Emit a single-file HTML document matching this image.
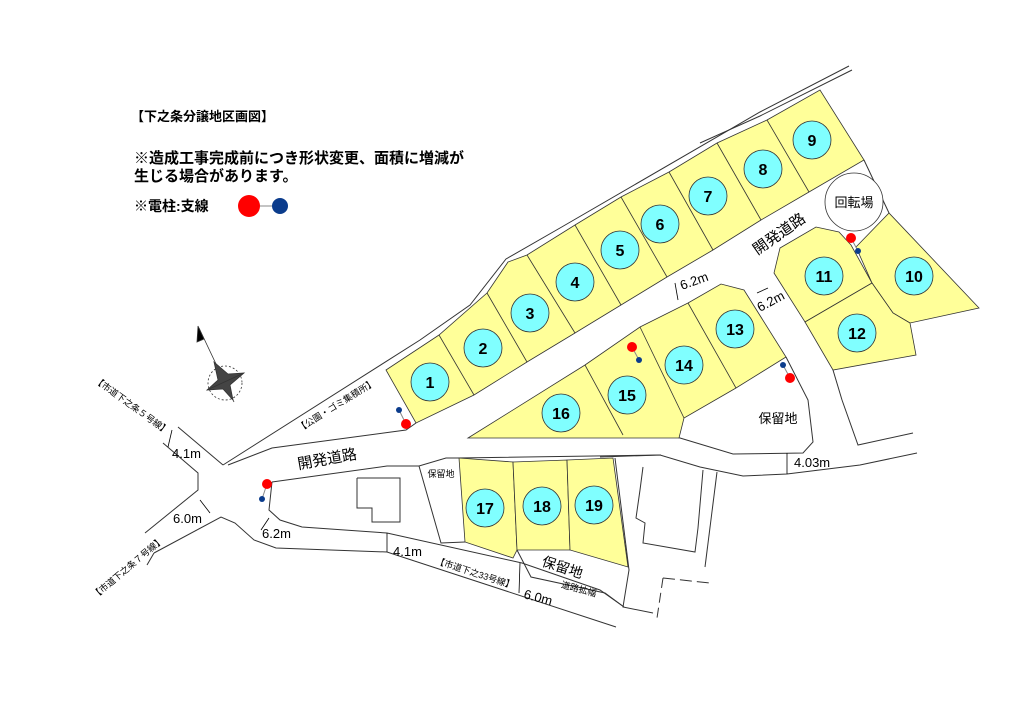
<!DOCTYPE html>
<html><head><meta charset="utf-8"><style>
html,body{margin:0;padding:0;background:#fff;}
svg{display:block;font-family:"Liberation Sans","Noto Sans CJK JP",sans-serif;}
</style></head><body>
<svg width="1024" height="724" viewBox="0 0 1024 724" xmlns="http://www.w3.org/2000/svg">
<g fill="none" stroke="#333" stroke-width="1">
<polyline points="223,465 420,340 470,305 506,259 560,228 760,112 849,66"/>
<polyline points="700,143 760,116 852,70"/>
<polyline points="228,465 272,448 406,430 416,423"/>
<polyline points="864,160 889,213"/>
<polyline points="178,427 223,465"/>
<polyline points="163,443 198,473 198,490 145,533"/>
<polyline points="154,553 221,517 235,523 254,540 276,548 387,552 616,627"/>
<polyline points="147,565 154,553"/>
<polyline points="272,482 387,466 419,466 446,458 457,458 661,455"/>
<polyline points="272,482 269,510 280,520 302,527 387,533 522,563 600,590 624,607"/>
<polyline points="419,466 441,543 465,542"/>
<polyline points="357,478 400,478 400,522 372,522 372,508 357,508 357,478"/>
<polyline points="517,550 531,577 605,593 624,607"/>
<polyline points="615,458 629,570 623,607 653,613"/>
<polyline points="643,467 640,490 636,518 645,523 643,543 695,552 698,528 703,470"/>
<polyline points="717,472 705,567"/>
<polyline points="663,578 657,618" stroke-dasharray="10,5"/>
<polyline points="663,578 710,583" stroke-dasharray="12,5"/>
<polyline points="600,437 663,434 680,438 733,454 803,453 813,442 808,400 786,357"/>
<polyline points="600,457 660,455 700,467 743,476 787,474 860,465 917,453"/>
<polyline points="842,400 858,445 913,433"/>
<polyline points="833,370 842,400"/>
</g>
<g fill="#ffff99" stroke="#333" stroke-width="0.8">
<polygon points="386,370 439,335 487,293 508,262 527,255 575,225 621,197 669,172 717,143 767,120 820,90 864,160 809,192 761,220 713,250 667,277 621,305 575,333 527,362 474,395 416,423"/>
<polygon points="468,438 585,365 640,327 688,303 721,284 744,290 786,357 736,388 684,418 679,438"/>
<polygon points="780,248 816,227 839,232 851,245 872,283 805,322 774,273"/>
<polygon points="856,247 889,213 979,308 910,323 893,313 872,283"/>
<polygon points="805,322 872,283 893,313 910,323 916,355 833,370"/>
<polygon points="459,458 513,462 517,550 513,558 465,542"/>
<polygon points="513,462 567,460 570,550 517,550"/>
<polygon points="567,460 613,458 628,567 570,550"/>
</g>
<g stroke="#333" stroke-width="0.8" fill="none">
<line x1="439" y1="335" x2="474" y2="395"/><line x1="487" y1="293" x2="527" y2="362"/>
<line x1="527" y1="255" x2="575" y2="333"/><line x1="575" y1="225" x2="621" y2="305"/>
<line x1="621" y1="197" x2="667" y2="277"/><line x1="669" y1="172" x2="713" y2="250"/>
<line x1="717" y1="143" x2="761" y2="220"/><line x1="767" y1="120" x2="809" y2="192"/>
<line x1="585" y1="365" x2="623" y2="435"/><line x1="640" y1="327" x2="684" y2="418"/>
<line x1="688" y1="303" x2="736" y2="388"/>
<circle cx="854" cy="202" r="29" fill="#fff"/>
</g>
<g fill="#80ffff" stroke="#333" stroke-width="0.8">
<circle cx="430" cy="382" r="19"/><circle cx="483" cy="348" r="19"/><circle cx="530" cy="313" r="19"/>
<circle cx="575" cy="282" r="19"/><circle cx="620" cy="250" r="19"/><circle cx="660" cy="224" r="19"/>
<circle cx="708" cy="196" r="19"/><circle cx="763" cy="169" r="19"/><circle cx="812" cy="140" r="19"/>
<circle cx="914" cy="276" r="19"/><circle cx="824" cy="276" r="19"/><circle cx="857" cy="333" r="19"/>
<circle cx="735" cy="329" r="19"/><circle cx="684" cy="365" r="19"/><circle cx="627" cy="395" r="19"/>
<circle cx="561" cy="413" r="19"/><circle cx="485" cy="508" r="19"/><circle cx="542" cy="506" r="19"/>
<circle cx="594" cy="505" r="19"/>
</g>
<g font-size="16" text-anchor="middle" fill="#000" font-family="'Liberation Sans Narrow','Liberation Sans',sans-serif" font-weight="bold">
<text x="430" y="388">1</text><text x="483" y="354">2</text><text x="530" y="319">3</text>
<text x="575" y="288">4</text><text x="620" y="256">5</text><text x="660" y="230">6</text>
<text x="708" y="202">7</text><text x="763" y="175">8</text><text x="812" y="146">9</text>
<text x="914" y="282">10</text><text x="824" y="282">11</text><text x="857" y="339">12</text>
<text x="735" y="335">13</text><text x="684" y="371">14</text><text x="627" y="401">15</text>
<text x="561" y="419">16</text><text x="485" y="514">17</text><text x="542" y="512">18</text>
<text x="594" y="511">19</text>
</g>
<g stroke="#888" stroke-width="1">
<line x1="399" y1="410" x2="406" y2="424"/><line x1="267" y1="484" x2="262" y2="499"/>
<line x1="632" y1="347" x2="639" y2="360"/><line x1="783" y1="365" x2="790" y2="378"/>
<line x1="851" y1="238" x2="858" y2="251"/><line x1="249" y1="206" x2="280" y2="206"/>
</g>
<g fill="#ff0000"><circle cx="406" cy="424" r="5"/><circle cx="267" cy="484" r="5"/><circle cx="632" cy="347" r="5"/><circle cx="790" cy="378" r="5"/><circle cx="851" cy="238" r="5"/><circle cx="249" cy="206" r="11"/></g>
<g fill="#0b3c8c"><circle cx="399" cy="410" r="3"/><circle cx="262" cy="499" r="3"/><circle cx="639" cy="360" r="3"/><circle cx="783" cy="365" r="3"/><circle cx="858" cy="251" r="3"/><circle cx="280" cy="206" r="8"/></g>
<!-- compass -->
<g stroke="#333" fill="none" stroke-width="0.8">
<circle cx="225" cy="383" r="17" stroke-dasharray="2,2"/>
<line x1="199" y1="328" x2="234" y2="402"/>
<polygon points="198,326 197,342 204,339" fill="#000"/>
<polygon points="214,362 228,374 244,373 230,385 233,400 223,389 207,390 218,380" fill="#444"/>
<line x1="207" y1="390" x2="244" y2="373"/>
</g>
<g stroke="#000" stroke-width="0.8">
<line x1="172" y1="430" x2="168" y2="447"/><line x1="200" y1="500" x2="210" y2="513"/>
<line x1="261" y1="530" x2="269" y2="518"/><line x1="387" y1="533" x2="387" y2="552"/>
<line x1="520" y1="563" x2="519" y2="593"/><line x1="787" y1="453" x2="787" y2="474"/>
<line x1="675" y1="283" x2="678" y2="300"/><line x1="757" y1="293" x2="768" y2="288"/>
</g>
<g fill="#000">
<text x="131" y="121" font-size="13" font-weight="bold">【下之条分譲地区画図】</text>
<text x="134" y="163" font-size="15" font-weight="bold">※造成工事完成前につき形状変更、面積に増減が</text>
<text x="134" y="181" font-size="15" font-weight="bold">生じる場合があります。</text>
<text x="134" y="211" font-size="14" font-weight="bold">※電柱:支線</text>
<text x="854" y="207" font-size="13" text-anchor="middle">回転場</text>
<text x="778" y="423" font-size="13" text-anchor="middle">保留地</text>
<text x="441" y="477" font-size="9" text-anchor="middle">保留地</text>
<text x="794" y="467" font-size="13">4.03m</text>
<text x="172" y="458" font-size="13">4.1m</text>
<text x="173" y="523" font-size="13">6.0m</text>
<text x="262" y="538" font-size="13">6.2m</text>
<text x="393" y="556" font-size="13">4.1m</text>
<text transform="translate(523,598) rotate(15)" font-size="13">6.0m</text>
<text transform="translate(682,290) rotate(-20)" font-size="13">6.2m</text>
<text transform="translate(760,312) rotate(-28)" font-size="13">6.2m</text>
<text transform="translate(328,464) rotate(-10)" font-size="15" text-anchor="middle">開発道路</text>
<text transform="translate(782,238) rotate(-35)" font-size="15" text-anchor="middle">開発道路</text>
<text transform="translate(561,572) rotate(18)" font-size="14" text-anchor="middle">保留地</text>
<text transform="translate(578,592) rotate(15)" font-size="9" text-anchor="middle">道路拡幅</text>
<text transform="translate(474,576) rotate(18)" font-size="9" text-anchor="middle">【市道下之33号線】</text>
<text transform="translate(338,408) rotate(-32)" font-size="9" text-anchor="middle">【公園・ゴミ集積所】</text>
<text transform="translate(130,408) rotate(36)" font-size="9" text-anchor="middle">【市道下之条５号線】</text>
<text transform="translate(130,570) rotate(-40)" font-size="9" text-anchor="middle">【市道下之条７号線】</text>
</g>
</svg>
</body></html>
